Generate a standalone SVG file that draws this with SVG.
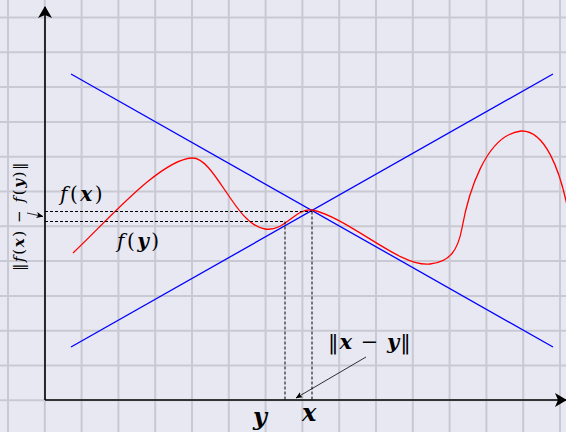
<svg xmlns="http://www.w3.org/2000/svg" width="566" height="432" viewBox="0 0 566 432">
<defs>
<style>
.grid{stroke:#c9c9d3;stroke-width:2;fill:none}
.axis{stroke:#000;stroke-width:1.6;fill:none}
.blue{stroke:#0000ff;stroke-width:1.3;fill:none}
.red{stroke:#ff0000;stroke-width:1.3;fill:none}
.dash{stroke:#000;stroke-width:1;stroke-dasharray:3,2;fill:none}
.thin{stroke:#000;stroke-width:0.8;fill:none}
.m{font-family:"DejaVu Serif","Liberation Serif",serif;font-style:italic;fill:#000}
</style>
<marker id="big" viewBox="0 0 12 14" refX="11" refY="7" markerWidth="12" markerHeight="14" markerUnits="userSpaceOnUse" orient="auto"><path d="M0,0 L12,7 L0,14 L3,7 Z" fill="#000"/></marker>
<marker id="small" viewBox="0 0 8 8" refX="7.5" refY="4" markerWidth="7" markerHeight="7" markerUnits="userSpaceOnUse" orient="auto"><path d="M0,0.5 L8,4 L0,7.5 L2,4 Z" fill="#000"/></marker>
</defs>
<rect width="566" height="432" fill="#e8e8f2"/>
<g id="grid" class="grid">
<path d="M8,0V432M44.8,0V432M81.6,0V432M118.4,0V432M155.2,0V432M192,0V432M228.8,0V432M265.6,0V432M302.4,0V432M339.2,0V432M376,0V432M412.8,0V432M449.6,0V432M486.4,0V432M523.2,0V432M560,0V432"/>
<path d="M0,17.5H566M0,52.3H566M0,87.1H566M0,121.9H566M0,156.7H566M0,191.5H566M0,226.3H566M0,261.1H566M0,295.9H566M0,330.7H566M0,365.5H566M0,400.3H566"/>
</g>
<g id="curves">
<path class="blue" d="M71,74 L553,347"/>
<path class="blue" d="M71,347 L553,74"/>
<path class="red" d="M73,253 C110,218 160,160 192,158 C215,157 235,225 265,229 C285,232 295,208 312,210 C350,218 400,268 430,264 C450,262 458,250 462,228 C468,195 485,135 521,131 C545,130 560,170 568,210"/>
</g>
<g id="connectors">
<path class="dash" d="M45,211.5H312M45,221.5H285M312,211.5V400M285,221.5V400"/>
<path class="thin" d="M27,213 L43,216.5" marker-end="url(#small)"/>
<path class="thin" d="M366,357 L296,398" marker-end="url(#small)"/>
</g>
<g id="axes">
<path class="axis" d="M45,400 V7" marker-end="url(#big)"/>
<path class="axis" d="M45,400 H566" marker-end="url(#big)"/>
</g>
<g id="labels">
<text class="m" x="60" y="201" font-size="20" letter-spacing="2.5">f<tspan font-style="normal">(</tspan><tspan font-weight="bold">x</tspan><tspan font-style="normal">)</tspan></text>
<text class="m" x="117" y="248" font-size="20" letter-spacing="2.5">f<tspan font-style="normal">(</tspan><tspan font-weight="bold">y</tspan><tspan font-style="normal">)</tspan></text>
<text class="m" transform="translate(24,271) rotate(-90)" font-size="15" letter-spacing="1.6"><tspan font-style="normal">‖</tspan>f<tspan font-style="normal">(</tspan><tspan font-weight="bold">x</tspan><tspan font-style="normal">) − </tspan>f<tspan font-style="normal">(</tspan><tspan font-weight="bold">y</tspan><tspan font-style="normal">)‖</tspan></text>
<text class="m" x="328" y="349" font-size="21" letter-spacing="1"><tspan font-style="normal">‖</tspan><tspan font-weight="bold">x</tspan><tspan font-style="normal"> − </tspan><tspan font-weight="bold">y</tspan><tspan font-style="normal">‖</tspan></text>
<text class="m" x="253" y="425" font-size="24" font-weight="bold">y</text>
<text class="m" x="302" y="421" font-size="24" font-weight="bold">x</text>
</g>
</svg>
